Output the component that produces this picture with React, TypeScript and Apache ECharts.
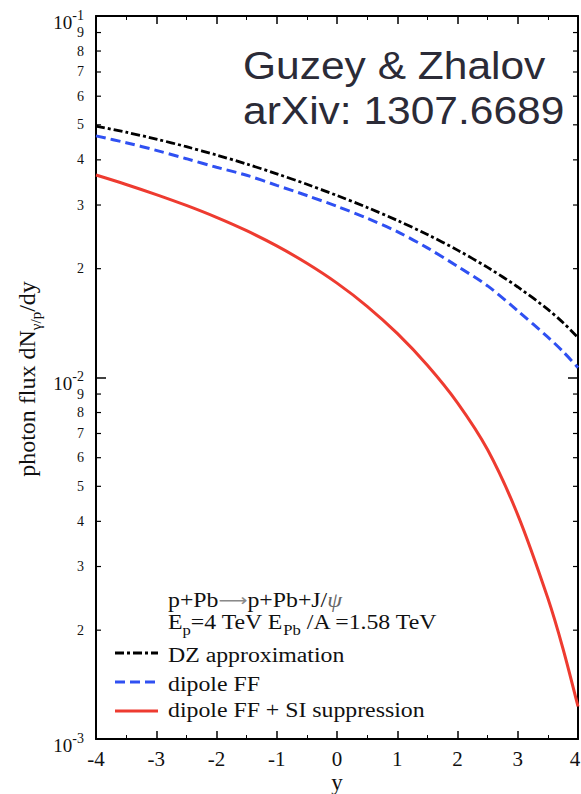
import React, { useEffect, useRef } from "react";
import * as echarts from "echarts";

// rapidity y
const rapidity = [-4, -3.5, -3, -2.5, -2, -1.5, -1, -0.5, 0, 0.5, 1, 1.5, 2, 2.5, 3, 3.5, 3.75, 4];
// DZ approximation
const dzFlux = [0.04961, 0.0477, 0.04566, 0.0435, 0.04125, 0.03895, 0.0366, 0.03424, 0.03187, 0.02954, 0.0272, 0.02486, 0.02251, 0.02016, 0.0178, 0.01543, 0.01419, 0.0129];
// dipole FF
const dipoleFlux = [0.04661, 0.04462, 0.0425, 0.0403, 0.03815, 0.03627, 0.034, 0.03187, 0.02975, 0.02757, 0.02532, 0.02283, 0.0203, 0.01792, 0.01529, 0.01293, 0.0118, 0.01065];
// dipole FF + SI suppression
const dipoleSIFlux = [0.03631, 0.0342, 0.03206, 0.02992, 0.02773, 0.02547, 0.02312, 0.0207, 0.01824, 0.01574, 0.01324, 0.01081, 0.00851, 0.00631, 0.00417, 0.00245, 0.00178, 0.00123];

const xTicks = [-4, -3, -2, -1, 0, 1, 2, 3, 4];
const xTickLabels = ["-4", "-3", "-2", "-1", "0", "1", "2", "3", "4"];
const yMajorTicks = [0.1, 0.01, 0.001];
const yMajorExponents = ["-1", "-2", "-3"];
const yMinorDecades = [0.001, 0.01];
const yMinorMantissas = [2, 3, 4, 5, 6, 7, 8, 9];
const legendNames = ["DZ approximation", "dipole FF", "dipole FF + SI suppression"];

const SERIF = "'Liberation Serif', 'Times New Roman', serif";
const SANS = "'Liberation Sans', Arial, Helvetica, sans-serif";
const BLACK = "#000000";
const BLUE = "#2f50f2";
const RED = "#ee3b30";
const DASH_DOT = [9, 3, 3, 3];
const DASH = [10, 5];

export default function App() {
  const ref = useRef<HTMLDivElement>(null);

  useEffect(() => {
    const el = ref.current!;
    const chart = echarts.init(el, null, { renderer: "svg", width: 581, height: 794 });

    const axisLine = { show: true, onZero: false, lineStyle: { color: BLACK, width: 2 } };
    const xAxisBase = {
      type: "value",
      min: -4,
      max: 4,
      interval: 1,
      axisLine,
      axisTick: { show: true, inside: true, length: 8, lineStyle: { color: BLACK, width: 1.5 } },
      minorTick: { show: true, splitNumber: 2, length: 4, lineStyle: { color: BLACK, width: 1 } },
      axisLabel: { show: false },
      splitLine: { show: false },
      minorSplitLine: { show: false },
    };
    const yAxisBase = {
      type: "log",
      logBase: 10,
      min: 0.001,
      max: 0.1,
      axisLine,
      axisTick: { show: true, inside: true, length: 10, lineStyle: { color: BLACK, width: 1.5 } },
      axisLabel: { show: false },
      splitLine: { show: false },
    };

    const mk = (name: string, vals: number[], color: string, width: number, type: any, z: number) => ({
      name,
      type: "line",
      data: rapidity.map((x, i) => [x, vals[i]]),
      symbol: "none",
      showSymbol: false,
      smooth: 0.3,
      z,
      lineStyle: { color, width, type },
    });

    chart.setOption({
      animation: false,
      backgroundColor: "#ffffff",
      grid: { left: 96, right: 3, top: 16, bottom: 55, containLabel: false },
      xAxis: [
        { ...xAxisBase, position: "bottom" },
        { ...xAxisBase, position: "top" },
      ],
      yAxis: [
        { ...yAxisBase, position: "left" },
        { ...yAxisBase, position: "right" },
      ],
      series: [
        mk(legendNames[2], dipoleSIFlux, RED, 3, "solid", 3),
        mk(legendNames[1], dipoleFlux, BLUE, 3, DASH, 4),
        mk(legendNames[0], dzFlux, BLACK, 2.8, DASH_DOT, 5),
      ],
    });

    const toPx = (x: number, y: number) =>
      chart.convertToPixel({ xAxisIndex: 0, yAxisIndex: 0 }, [x, y]) as number[];
    const [left] = toPx(-4, 0.1);
    const [right, bottom] = toPx(4, 0.001);

    const g: any[] = [];

    // minor log ticks and labels
    yMinorDecades.forEach((dec) => {
      yMinorMantissas.forEach((m) => {
        const py = toPx(0, m * dec)[1];
        g.push({ type: "line", shape: { x1: left, y1: py, x2: left + 5, y2: py }, style: { stroke: BLACK, lineWidth: 1.2 } });
        g.push({ type: "line", shape: { x1: right, y1: py, x2: right - 5, y2: py }, style: { stroke: BLACK, lineWidth: 1.2 } });
        g.push({
          type: "text",
          x: left - 12,
          y: py,
          style: { text: String(m), fontFamily: SERIF, fontSize: 14, fill: "#111", align: "right", verticalAlign: "middle" },
        });
      });
    });

    // major log labels 10^n
    yMajorTicks.forEach((v, i) => {
      const py = toPx(0, v)[1];
      g.push({
        type: "text",
        x: left - 12,
        y: py + 6,
        style: {
          text: `{b|10}{s|${yMajorExponents[i]}}`,
          align: "right",
          verticalAlign: "middle",
          rich: {
            b: { fontFamily: SERIF, fontSize: 19, lineHeight: 28, fill: "#111" },
            s: { fontFamily: SERIF, fontSize: 14, lineHeight: 14, verticalAlign: "top", fill: "#111" },
          },
        },
      });
    });

    // x tick labels
    xTicks.forEach((v, i) => {
      const px = Math.min(toPx(v, 0.01)[0], 575);
      g.push({
        type: "text",
        x: px,
        y: bottom + 20,
        style: { text: xTickLabels[i], fontFamily: SERIF, fontSize: 21, fill: "#111", align: "center", verticalAlign: "middle" },
      });
    });

    // x axis name
    g.push({
      type: "text",
      x: (left + right) / 2,
      y: bottom + 43,
      style: { text: "y", fontFamily: SERIF, fontSize: 23, fill: "#111", align: "center", verticalAlign: "middle" },
    });

    // y axis name
    g.push({
      type: "text",
      x: 27,
      y: 379,
      rotation: Math.PI / 2,
      style: {
        text: "{n|photon flux dN}{s|γ/p}{n|/dy}",
        align: "center",
        verticalAlign: "middle",
        rich: {
          n: { fontFamily: SERIF, fontSize: 24, lineHeight: 33, fill: "#111" },
          s: { fontFamily: SERIF, fontSize: 15, lineHeight: 15, verticalAlign: "bottom", fill: "#111" },
        },
      },
    });

    // top-right annotation
    g.push({
      type: "text",
      x: 243,
      y: 66,
      scaleX: 1.09,
      style: { text: "Guzey & Zhalov", fontFamily: SANS, fontSize: 39, fill: "#2b2b37", align: "left", verticalAlign: "middle" },
    });
    g.push({
      type: "text",
      x: 243,
      y: 111,
      scaleX: 1.09,
      style: { text: "arXiv: 1307.6689", fontFamily: SANS, fontSize: 39, fill: "#2b2b37", align: "left", verticalAlign: "middle" },
    });

    // process annotation
    const richMain = {
      n: { fontFamily: SERIF, fontSize: 20, lineHeight: 30, fill: "#111" },
      a: { fontFamily: "'DejaVu Sans', sans-serif", fontSize: 17, lineHeight: 30, fill: "#8a8a8a" },
      g: { fontFamily: SERIF, fontSize: 20, lineHeight: 30, fill: "#666", fontStyle: "italic" },
      s: { fontFamily: SERIF, fontSize: 14, lineHeight: 14, verticalAlign: "bottom", fill: "#111" },
    };
    g.push({
      type: "text",
      x: 168,
      y: 600,
      scaleX: 1.19,
      style: { text: "{n|p+Pb}{a|⟶}{n|p+Pb+J/}{g|ψ}", align: "left", verticalAlign: "middle", rich: richMain },
    });
    g.push({
      type: "text",
      x: 168,
      y: 622,
      scaleX: 1.19,
      style: { text: "{n|E}{s|p}{n|=4 TeV E}{s|Pb}{n| /A =1.58 TeV}", align: "left", verticalAlign: "middle", rich: richMain },
    });

    // legend
    const legendColors = [BLACK, BLUE, RED];
    const legendDash: any[] = [DASH_DOT, DASH, null];
    const legendLineY = [653, 682, 711];
    const legendTextY = [655, 684, 710];
    legendNames.forEach((name, i) => {
      g.push({
        type: "line",
        shape: { x1: 115, y1: legendLineY[i], x2: 158, y2: legendLineY[i] },
        style: { stroke: legendColors[i], lineWidth: 3, lineDash: legendDash[i] || undefined },
      });
      g.push({
        type: "text",
        x: 168,
        y: legendTextY[i],
        scaleX: 1.19,
        style: { text: name, fontFamily: SERIF, fontSize: 20, fill: "#111", align: "left", verticalAlign: "middle" },
      });
    });

    chart.setOption({ graphic: g });

    return () => chart.dispose();
  }, []);

  return (
    <div
      ref={ref}
      style={{ position: "fixed", left: 0, top: 0, width: 581, height: 794, background: "#ffffff" }}
    />
  );
}
